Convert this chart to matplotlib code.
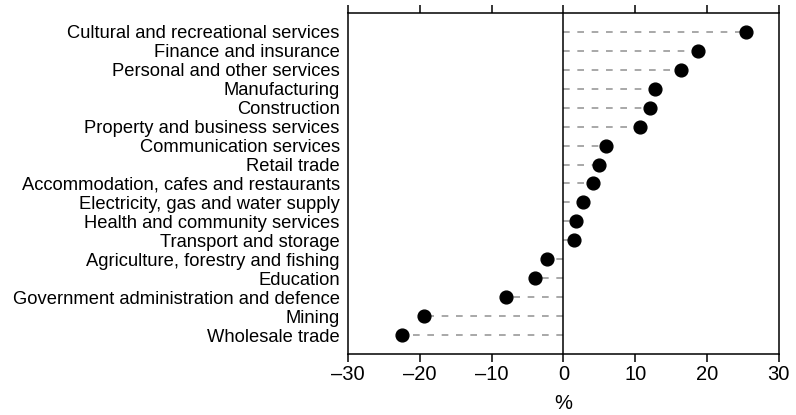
import numpy as np
import matplotlib.pyplot as plt

industries = ['Cultural and recreational services', 'Finance and insurance',
              'Personal and other services', 'Manufacturing', 'Construction',
              'Property and business services', 'Communication services',
              'Retail trade', 'Accommodation, cafes and restaurants',
              'Electricity, gas and water supply', 'Health and community services',
              'Transport and storage', 'Agriculture, forestry and fishing',
              'Education', 'Government administration and defence', 'Mining',
              'Wholesale trade']
change = [25.4, 18.7, 16.4, 12.8, 12.1, 10.7, 5.9, 4.9, 4.1,
          2.8, 1.8, 1.5, -2.3, -3.9, -8.0, -19.4, -22.5]
xticks = [-30, -20, -10, 0, 10, 20, 30]

plt.rcParams['font.family'] = ['Liberation Sans', 'DejaVu Sans']

fig = plt.figure(figsize=(7.96, 4.15), dpi=100)
ax = fig.add_axes([0.4372, 0.1463, 0.5411, 0.8231])

y = np.arange(len(industries))
for yi, v in zip(y, change):
    ax.plot([0, v], [yi, yi], color='#999999', lw=1.2, dashes=(4.0, 4.6), zorder=1)
ax.plot(change, y, 'o', color='black', ms=9.2, zorder=3)
ax.axvline(0, color='black', lw=1.1, zorder=2)

ax.set_xlim(-30, 30)
ax.set_ylim(len(industries), -1)
ax.set_yticks(y)
ax.set_yticklabels(industries, fontsize=13.2)
ax.set_xticks(xticks)
ax.set_xticklabels([str(t).replace('-', '\u2013') for t in xticks], fontsize=14.5)
ax.tick_params(axis='y', length=0, pad=6)
ax.tick_params(axis='x', top=True, direction='out', length=6, width=1.1, pad=2)
ax.set_xlabel('%', fontsize=14.5, labelpad=7)
for s in ax.spines.values():
    s.set_linewidth(1.1)

fig.savefig('out.png', dpi=100)
